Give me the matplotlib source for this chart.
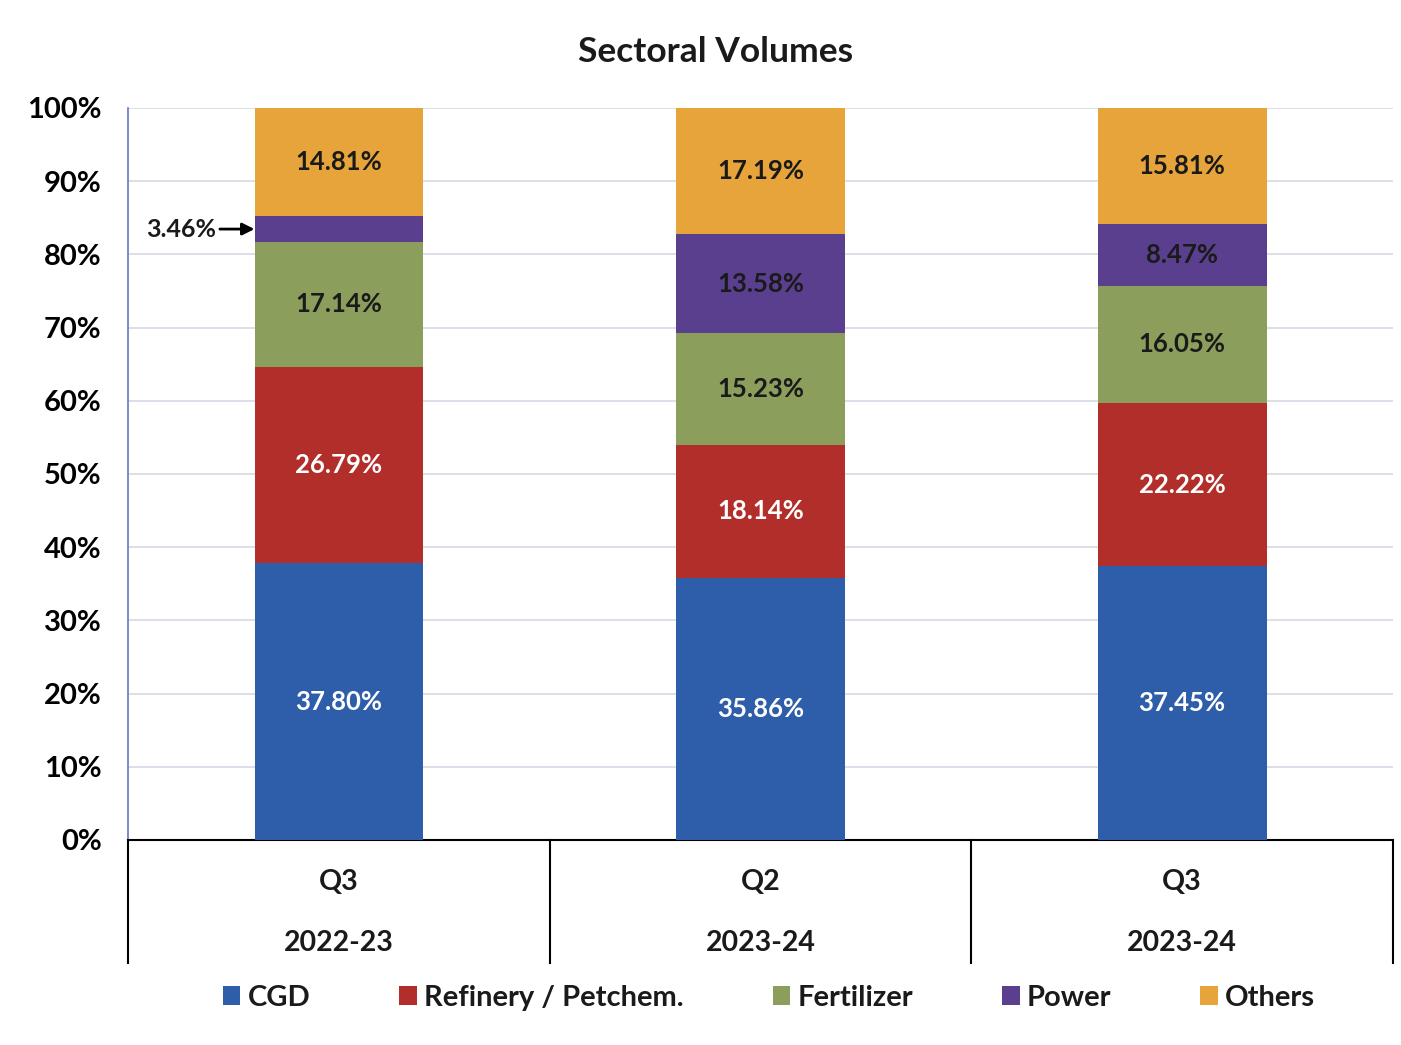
import matplotlib
matplotlib.use("Agg")
import matplotlib.pyplot as plt
import numpy as np

periods = ["Q3", "Q2", "Q3"]
years = ["2022-23", "2023-24", "2023-24"]
sectors = ["CGD", "Refinery / Petchem.", "Fertilizer", "Power", "Others"]
cgd = [37.80, 35.86, 37.45]
refinery = [26.79, 18.14, 22.22]
fertilizer = [17.14, 15.23, 16.05]
power = [3.46, 13.58, 8.47]
others = [14.81, 17.19, 15.81]

colors = ["#2E5DAA", "#B22E2A", "#8B9E5B", "#5A3F8E", "#E6A43B"]
label_colors = ["white", "white", "#1a1a1a", "#1a1a1a", "#1a1a1a"]

plt.rcParams['font.family'] = ['Lato', 'DejaVu Sans']
plt.rcParams['font.weight'] = 'bold'

fig = plt.figure(figsize=(14.01, 10.45), dpi=100)
ax = fig.add_axes([128/1401, 1-840/1045, (1393-128)/1401, (840-108)/1045])

series = [cgd, refinery, fertilizer, power, others]
x = np.arange(len(periods))
bottom = np.zeros(len(periods))
width = 0.40
for i, (name, vals) in enumerate(zip(sectors, series)):
    vals = np.array(vals)
    ax.bar(x, vals, width, bottom=bottom, color=colors[i], label=name, zorder=3)
    for j, v in enumerate(vals):
        if name == "Power" and j == 0:
            ax.annotate(f"{v:.2f}%", xy=(x[j] - width/2, bottom[j] + v/2),
                        xytext=(x[j] - width/2 - 0.175, bottom[j] + v/2),
                        ha="center", va="center", fontsize=18, fontweight="bold",
                        color="#1a1a1a",
                        arrowprops=dict(arrowstyle="-|>", color="black", lw=2,
                                        shrinkA=1, shrinkB=0, mutation_scale=18))
        else:
            ax.text(x[j], bottom[j] + v/2, f"{v:.2f}%", ha="center", va="center",
                    fontsize=18.5, fontweight="bold", color=label_colors[i], zorder=4)
    bottom += vals

ax.set_xlim(-0.5, 2.5)
ax.set_ylim(0, 100)
ax.set_yticks(np.arange(0, 101, 10))
ax.set_yticklabels([f"{t}%" for t in range(0, 101, 10)], fontsize=21, fontweight="bold")
ax.tick_params(axis="y", length=0, pad=19)
ax.set_xticks([])
ax.grid(axis="y", color="#D5D9E3", lw=1.2, zorder=0)
for s in ["top", "right"]:
    ax.spines[s].set_visible(False)
ax.spines["left"].set_color("#5B7BC0")
ax.spines["left"].set_linewidth(1.2)
ax.spines["bottom"].set_color("black")
ax.spines["bottom"].set_linewidth(1.5)

trans = matplotlib.transforms.blended_transform_factory(ax.transData, ax.transAxes)
depth = -(963-840)/732
for sx in [-0.5, 0.5, 1.5, 2.5]:
    ax.plot([sx, sx], [0, depth], transform=trans, color="black", lw=1.5, clip_on=False)
for j in range(len(periods)):
    ax.text(x[j], -(882-840)/732, periods[j], transform=trans, ha="center", va="center",
            fontsize=20.5, fontweight="bold", color="#1a1a1a")
    ax.text(x[j], -(943-840)/732, years[j], transform=trans, ha="center", va="center",
            fontsize=20.5, fontweight="bold", color="#1a1a1a")

fig.text(716/1401, 1-52/1045, "Sectoral Volumes", ha="center", va="center",
         fontsize=25.5, fontweight="bold", color="#1a1a1a")

leg = fig.legend(loc="center", bbox_to_anchor=(769/1401, 1-998/1045), ncol=5, frameon=False,
                 fontsize=21, handlelength=0.6, handleheight=0.6, handletextpad=0.25,
                 columnspacing=3.05)
for t in leg.get_texts():
    t.set_fontweight("bold")
    t.set_color("#1a1a1a")

fig.savefig("out.png", dpi=100, facecolor="white")
